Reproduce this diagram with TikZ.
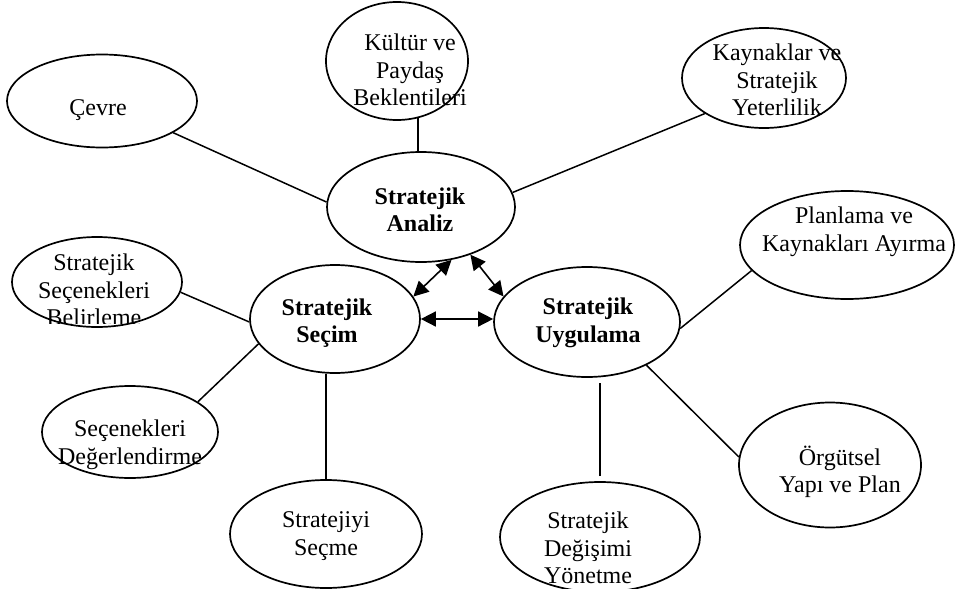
\documentclass[tikz,border=0pt]{standalone}
\usepackage{fontspec}
\setmainfont{Liberation Serif}
\usetikzlibrary{arrows.meta,shapes.geometric}
\begin{document}
\begin{tikzpicture}[x=1pt,y=-1pt,
  oval/.style={draw,ellipse,line width=1.7pt,inner sep=0pt},
  lbl/.style={align=center,inner sep=0pt,font=\fontsize{24}{27.5}\selectfont},
  lblb/.style={align=center,inner sep=0pt,font=\fontsize{24}{27.5}\selectfont\bfseries},
  link/.style={line width=1.5pt},
  both/.style={line width=1.6pt,{Triangle[length=15pt,width=15pt]}-{Triangle[length=15pt,width=15pt]}}]

\fill[white] (0,0) rectangle (956,589);
\useasboundingbox (0,0) rectangle (956,589);

% ellipses
\node[oval,minimum width=190pt,minimum height=93pt]  (cevre)   at (102,101) {};
\node[oval,minimum width=142pt,minimum height=118pt] (kultur)  at (397,61)  {};
\node[oval,minimum width=164pt,minimum height=100pt] (kaynak)  at (764,78)  {};
\node[oval,minimum width=188pt,minimum height=110pt] (analiz)  at (421,207) {};
\node[oval,minimum width=214pt,minimum height=108pt] (planla)  at (847,245) {};
\node[oval,minimum width=170pt,minimum height=90pt]  (secenek) at (97,282)  {};
\node[oval,minimum width=170pt,minimum height=108pt] (secim)   at (335,319) {};
\node[oval,minimum width=186pt,minimum height=110pt] (uygula)  at (587,322) {};
\node[oval,minimum width=176pt,minimum height=92pt]  (degerl)  at (130,432) {};
\node[oval,minimum width=192pt,minimum height=108pt] (secme)   at (326,534) {};
\node[oval,minimum width=200pt,minimum height=110pt] (degisim) at (600,537) {};
\node[oval,minimum width=182pt,minimum height=125pt] (orgut)   at (830,465) {};

% labels
\node[lbl]  (tcevre)   at (98,110)  {Çevre};
\node[lbl]  (tkultur)  at (410,70)  {Kültür ve\\Paydaş\\Beklentileri};
\node[lbl]  (tkaynak)  at (777,80)  {Kaynaklar ve\\Stratejik\\Yeterlilik};
\node[lblb] (tanaliz)  at (420,210) {Stratejik\\Analiz};
\node[lbl]  (tplanla)  at (854,232) {Planlama ve\\Kaynakları Ayırma};
\begin{scope}
  \clip (0,230) rectangle (200,323);
  \node[lbl] (tsecenek) at (94,290) {Stratejik\\Seçenekleri\\Belirleme};
\end{scope}
\node[lblb] (tsecim)   at (327,323) {Stratejik\\Seçim};
\node[lblb] (tuygula)  at (588,323) {Stratejik\\Uygulama};
\node[lbl]  (tdegerl)  at (130,445) {Seçenekleri\\Değerlendirme};
\node[lbl]  (tsecme)   at (326,536) {Stratejiyi\\Seçme};
\node[lbl]  (tdegisim) at (588,548) {Stratejik\\Değişimi\\Yönetme};
\node[lbl]  (torgut)   at (840,472) {Örgütsel\\Yapı ve Plan};

% connectors
\draw[link] (cevre.-24) -- (analiz.177);
\draw[link] (kultur.-70) -- (kultur.-70 |- analiz.north);
\draw[link] (kaynak.-149) -- (analiz.9);
\draw[link] (secenek.-7) -- (secim.182);
\draw[link] (secim.198) -- (degerl.24);
\draw[link] (secme.north) -- (secme.north |- secim.south);
\draw[link] (planla.195) -- (uygula.-4);
\draw[link] (uygula.-36) -- (orgut.175);
\draw[link,shorten <=5pt,shorten >=5pt] (degisim.north) -- (degisim.north |- uygula.south);

% two-way arrows between the three core stages
\draw[both] (secim.16) -- (analiz.-60);
\draw[both] (analiz.-44) -- (uygula.163);
\draw[both] (secim.east) -- (secim.east -| uygula.west);
\end{tikzpicture}
\end{document}
